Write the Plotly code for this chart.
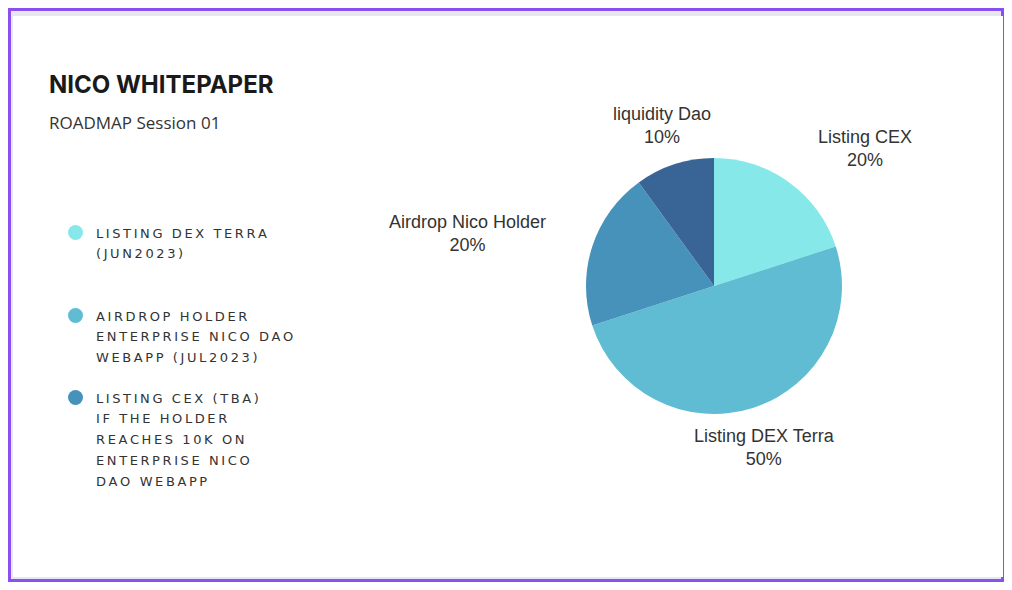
import plotly.graph_objects as go

labels = ["Listing CEX", "Listing DEX Terra", "Airdrop Nico Holder", "liquidity Dao"]
values = [20, 50, 20, 10]
colors = ["#86E8E8", "#5FBCD3", "#4792BA", "#386496"]

legend_items = [
    ["LISTING DEX TERRA", "(JUN2023)"],
    ["AIRDROP HOLDER", "ENTERPRISE NICO DAO", "WEBAPP (JUL2023)"],
    ["LISTING CEX (TBA)", "IF THE HOLDER", "REACHES 10K ON", "ENTERPRISE NICO", "DAO WEBAPP"],
]
legend_colors = ["#86E8E8", "#5FBCD3", "#4792BA"]

# page body has an 8px margin, so the figure is drawn 8px in
OFF = 8
W, H = 1012 - 2 * OFF, 590 - 2 * OFF
def px(x): return (x - OFF) / W
def py(y): return 1 - (y - OFF) / H

fig = go.Figure(go.Pie(
    labels=labels, values=values, sort=False, direction="clockwise", rotation=0,
    marker=dict(colors=colors), textinfo="none", hoverinfo="label+percent",
    domain=dict(x=[px(586), px(842)], y=[py(414), py(158)]), showlegend=False,
))

shapes = [
    dict(type="rect", xref="paper", yref="paper", x0=0, x1=1, y0=0, y1=1,
         line=dict(color="#8A4FF0", width=6), fillcolor="#E7E7EF", layer="below"),
    dict(type="rect", xref="paper", yref="paper", x0=px(13), x1=px(1003), y0=py(577), y1=py(16),
         line=dict(width=0), fillcolor="white", layer="below"),
]

ann = [
    dict(x=px(47), y=py(84), text="<b>NICO WHITEPAPER</b>", xanchor="left", yanchor="middle",
         showarrow=False, font=dict(size=24, color="#1a1a1a", family="Inter")),
    dict(x=px(47), y=py(122), text="ROADMAP Session 01", xanchor="left", yanchor="middle",
         showarrow=False, font=dict(size=17, color="#333", family="Open Sans")),
]

pie_label_pos = [(865, 148), (764, 447), (467, 233), (662, 125)]
for lab, v, (x, y) in zip(labels, values, pie_label_pos):
    ann.append(dict(x=px(x), y=py(y), text=f"{lab}<br>{v}%", xanchor="center", yanchor="middle",
                    showarrow=False, font=dict(size=18, color="#333", family="Liberation Sans")))

tops = [233, 316, 398]
for lines, c, top in zip(legend_items, legend_colors, tops):
    shapes.append(dict(type="circle", xref="paper", yref="paper", x0=px(68), x1=px(83),
                       y0=py(top + 7), y1=py(top - 8), fillcolor=c, line=dict(width=0)))
    for i, t in enumerate(lines):
        ann.append(dict(x=px(94), y=py(top + i * 20.8), text="\u2009".join(t), xanchor="left",
                        yanchor="middle", showarrow=False,
                        font=dict(size=13, color="#333", family="DejaVu Sans")))

fig.update_layout(width=W, height=H, margin=dict(l=0, r=0, t=0, b=0),
                  paper_bgcolor="white", shapes=shapes, annotations=ann)
fig.write_html("out.html")
